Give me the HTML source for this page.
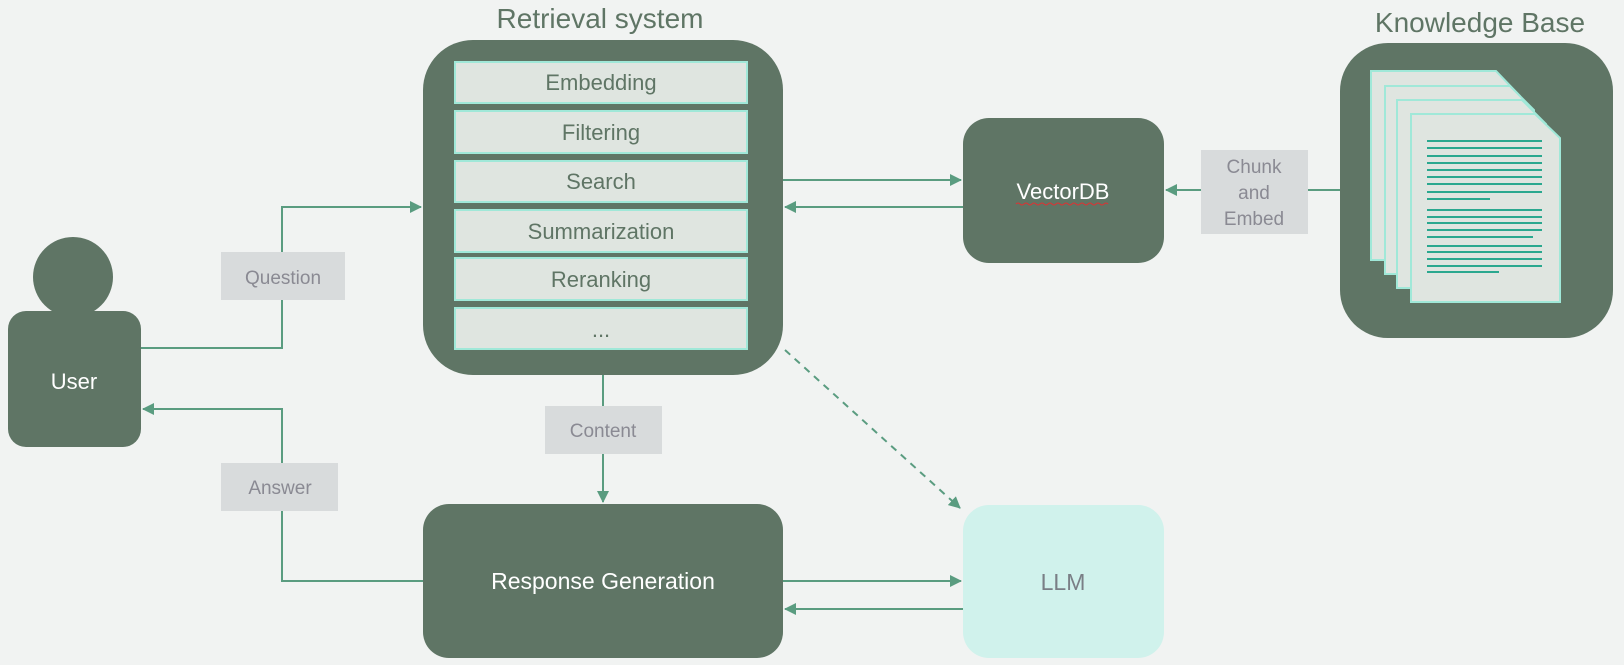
<!DOCTYPE html>
<html><head><meta charset="utf-8"><style>
html,body{margin:0;padding:0;background:#f1f3f2;}
svg{display:block;font-family:"Liberation Sans",sans-serif;}
</style></head><body>
<svg width="1624" height="665" viewBox="0 0 1624 665" xmlns="http://www.w3.org/2000/svg">
<defs>
<marker id="a" markerWidth="12" markerHeight="12" refX="11" refY="6" orient="auto" markerUnits="userSpaceOnUse">
<path d="M0,0 L12,6 L0,12 z" fill="#5a9c80"/></marker>
</defs>
<rect width="1624" height="665" fill="#f1f3f2"/>

<text x="600" y="28" font-size="28" fill="#5f7565" text-anchor="middle">Retrieval system</text>
<text x="1480" y="32" font-size="28" fill="#5f7565" text-anchor="middle">Knowledge Base</text>

<g stroke="#5a9c80" stroke-width="2" fill="none">
<polyline points="141,348 282,348 282,207 421,207" marker-end="url(#a)"/>
<polyline points="423,581 282,581 282,409 143,409" marker-end="url(#a)"/>
<line x1="603" y1="375" x2="603" y2="502" marker-end="url(#a)"/>
<line x1="783" y1="180" x2="961" y2="180" marker-end="url(#a)"/>
<line x1="963" y1="207" x2="785" y2="207" marker-end="url(#a)"/>
<line x1="1340" y1="190" x2="1166" y2="190" marker-end="url(#a)"/>
<line x1="783" y1="581" x2="961" y2="581" marker-end="url(#a)"/>
<line x1="963" y1="609" x2="785" y2="609" marker-end="url(#a)"/>
<line x1="785" y1="350" x2="960" y2="508" stroke-dasharray="7,6" marker-end="url(#a)"/>
</g>

<circle cx="73" cy="277" r="40" fill="#5f7565"/>
<rect x="8" y="311" width="133" height="136" rx="18" fill="#5f7565"/>
<text x="74" y="389" font-size="22" fill="#ffffff" text-anchor="middle">User</text>

<rect x="221" y="252" width="124" height="48" fill="#d8dbdc"/>
<text x="283" y="284" font-size="19" fill="#8a8a93" text-anchor="middle">Question</text>
<rect x="221" y="463" width="117" height="48" fill="#d8dbdc"/>
<text x="280" y="494" font-size="19" fill="#8a8a93" text-anchor="middle">Answer</text>
<rect x="545" y="406" width="117" height="48" fill="#d8dbdc"/>
<text x="603" y="437" font-size="19" fill="#8a8a93" text-anchor="middle">Content</text>
<rect x="1201" y="150" width="107" height="84" fill="#d8dbdc"/>
<text x="1254" y="173" font-size="19" fill="#8a8a93" text-anchor="middle">Chunk</text>
<text x="1254" y="199" font-size="19" fill="#8a8a93" text-anchor="middle">and</text>
<text x="1254" y="225" font-size="19" fill="#8a8a93" text-anchor="middle">Embed</text>

<rect x="423" y="40" width="360" height="335" rx="50" fill="#5f7565"/>
<g fill="#dfe5e0" stroke="#a0e8d8" stroke-width="2">
<rect x="455" y="62" width="292" height="41"/>
<rect x="455" y="111" width="292" height="42"/>
<rect x="455" y="161" width="292" height="41"/>
<rect x="455" y="210" width="292" height="42"/>
<rect x="455" y="258" width="292" height="42"/>
<rect x="455" y="308" width="292" height="41"/>
</g>
<g font-size="22" fill="#5f7565" text-anchor="middle">
<text x="601" y="90">Embedding</text>
<text x="601" y="140">Filtering</text>
<text x="601" y="189">Search</text>
<text x="601" y="239">Summarization</text>
<text x="601" y="287">Reranking</text>
<text x="601" y="337">...</text>
</g>

<rect x="963" y="118" width="201" height="145" rx="26" fill="#5f7565"/>
<text x="1063" y="199" font-size="22" fill="#ffffff" text-anchor="middle">VectorDB</text>
<path d="M1016,204 q2,-2 4,0 t4,0 t4,0 t4,0 t4,0 t4,0 t4,0 t4,0 t4,0 t4,0 t4,0 t4,0 t4,0 t4,0 t4,0 t4,0 t4,0 t4,0 t4,0 t4,0 t4,0 t4,0 t4,0" stroke="#d33" stroke-width="1" fill="none"/>

<rect x="423" y="504" width="360" height="154" rx="26" fill="#5f7565"/>
<text x="603" y="589" font-size="23" fill="#ffffff" text-anchor="middle">Response Generation</text>

<rect x="963" y="505" width="201" height="153" rx="26" fill="#d0f2ec"/>
<text x="1063" y="590" font-size="23" fill="#7a7f86" text-anchor="middle">LLM</text>

<rect x="1340" y="43" width="273" height="295" rx="48" fill="#5f7565"/>
<g fill="#dfe5e0" stroke="#a0e8d8" stroke-width="2">
<path d="M1371,71 L1496,71 L1520,96 L1520,260 L1371,260 z"/>
<path d="M1385,86 L1510,86 L1534,110 L1534,274 L1385,274 z"/>
<path d="M1397,100 L1522,100 L1546,124 L1546,288 L1397,288 z"/>
<path d="M1411,114 L1535,114 L1560,138 L1560,302 L1411,302 z"/>
</g>
<g stroke="#2aa88f" stroke-width="2">
<line x1="1427" y1="141" x2="1542" y2="141"/>
<line x1="1427" y1="148" x2="1542" y2="148"/>
<line x1="1427" y1="156" x2="1542" y2="156"/>
<line x1="1427" y1="163" x2="1542" y2="163"/>
<line x1="1427" y1="170" x2="1542" y2="170"/>
<line x1="1427" y1="177" x2="1542" y2="177"/>
<line x1="1427" y1="184" x2="1542" y2="184"/>
<line x1="1427" y1="192" x2="1542" y2="192"/>
<line x1="1427" y1="199" x2="1490" y2="199"/>
<line x1="1427" y1="210" x2="1542" y2="210"/>
<line x1="1427" y1="217" x2="1542" y2="217"/>
<line x1="1427" y1="223" x2="1542" y2="223"/>
<line x1="1427" y1="230" x2="1542" y2="230"/>
<line x1="1427" y1="237" x2="1533" y2="237"/>
<line x1="1427" y1="246" x2="1542" y2="246"/>
<line x1="1427" y1="252" x2="1542" y2="252"/>
<line x1="1427" y1="259" x2="1542" y2="259"/>
<line x1="1427" y1="266" x2="1542" y2="266"/>
<line x1="1427" y1="272" x2="1499" y2="272"/>
</g>
</svg>
</body></html>
